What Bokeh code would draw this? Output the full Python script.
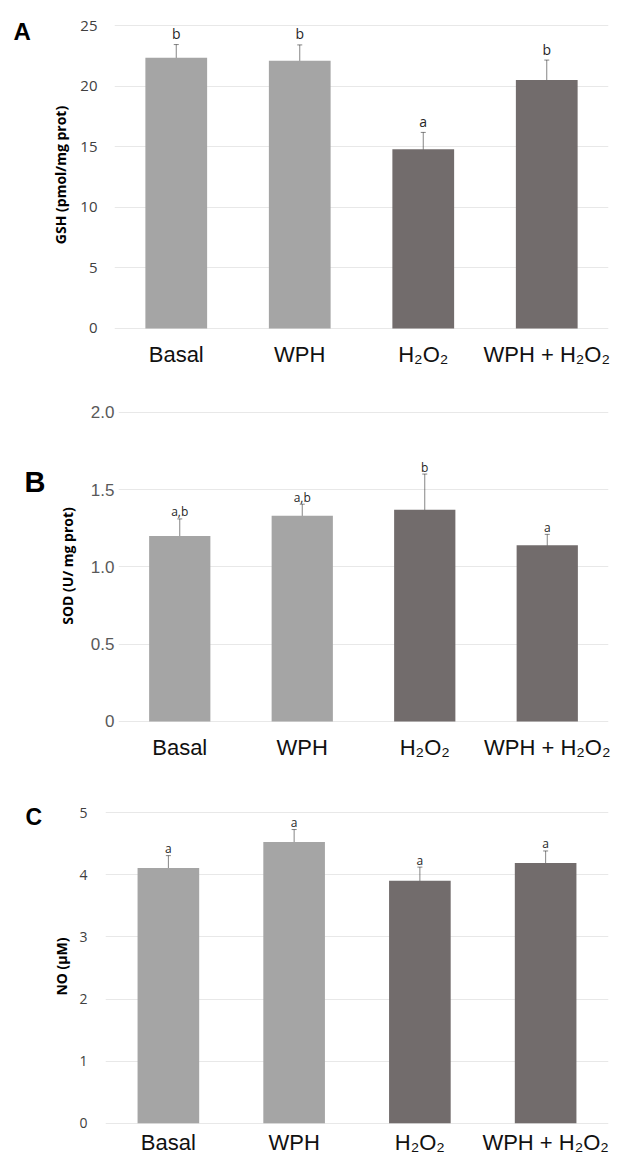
from bokeh.plotting import figure
from bokeh.models import (ColumnDataSource, Whisker, TeeHead, FixedTicker,
                          FactorRange, Range1d, NumeralTickFormatter)
from bokeh.layouts import row
from bokeh.embed import file_html
from bokeh.resources import INLINE
from bokeh.core.properties import value

# ---------------- data ----------------
groups = ["Basal", "WPH", "H₂O₂", "WPH + H₂O₂"]

gsh_mean = [22.35, 22.1, 14.8, 20.5]
gsh_err = [1.08, 1.3, 1.38, 1.65]
gsh_sig = ["b", "b", "a", "b"]
gsh_ticks = [0, 5, 10, 15, 20, 25]

sod_mean = [1.20, 1.33, 1.37, 1.14]
sod_err = [0.11, 0.075, 0.23, 0.07]
sod_sig = ["a,b", "a,b", "b", "a"]
sod_ticks = [0, 0.5, 1.0, 1.5, 2.0]

no_mean = [4.11, 4.53, 3.905, 4.19]
no_err = [0.2, 0.2, 0.22, 0.195]
no_sig = ["a", "a", "a", "a"]
no_ticks = [0, 1, 2, 3, 4, 5]

# ---------------- styles ----------------
LIGHT = "#A5A5A5"
DARK = "#726C6C"
bar_colors = [LIGHT, LIGHT, DARK, DARK]
LW = 46          # width of the strip holding the panel letter
W = 640 - LW     # width of the chart itself


def letter_strip(letter, *, height, top, bottom, x, center, size):
    s = figure(width=LW, height=height, x_range=Range1d(0, LW),
               y_range=Range1d(height - bottom, top),
               x_axis_location=None, y_axis_location=None,
               output_backend="svg", toolbar_location=None,
               min_border_top=top, min_border_bottom=bottom,
               min_border_left=0, min_border_right=0)
    s.outline_line_color = None
    s.grid.visible = False
    s.text(x=[x], y=[center], text=[letter], text_align="left",
           text_baseline="middle", text_font=value("Liberation Sans"),
           text_font_size=value(size), text_font_style="bold",
           text_color="#000000")
    return s


def panel(mean, err, sig, ticks, ylabel, *, height, top, bottom, left,
          yr, bar_w, tick_font, tick_size, tick_color, tick_standoff,
          label_standoff, x_standoff, sig_size, sig_off, fmt=None,
          overrides=None):
    upper = [m + e for m, e in zip(mean, err)]
    lower = [m - e for m, e in zip(mean, err)]
    src = ColumnDataSource(dict(cat=groups, val=mean, upper=upper, lower=lower,
                                sig=sig, color=bar_colors))
    p = figure(x_range=FactorRange(*groups), y_range=Range1d(*yr),
               width=W, height=height, output_backend="svg",
               toolbar_location=None, min_border_top=top,
               min_border_bottom=bottom, min_border_left=left,
               min_border_right=32)
    p.outline_line_color = None
    p.background_fill_color = "white"
    p.border_fill_color = "white"

    p.vbar(x="cat", top="val", bottom=0, width=bar_w, source=src,
           fill_color="color", line_color=None)

    wh = Whisker(base="cat", upper="upper", lower="lower", source=src,
                 line_color="#222222", line_alpha=0.55, line_width=1,
                 upper_head=TeeHead(size=5, line_color="#222222", line_alpha=0.55),
                 lower_head=TeeHead(size=5, line_color="#222222", line_alpha=0.55))
    p.add_layout(wh)

    p.text(x="cat", y="upper", text="sig", source=src, text_align="center",
           text_baseline="middle", y_offset=-sig_off,
           text_font=value("Open Sans"), text_font_size=value(sig_size),
           text_color="#262626")

    p.xgrid.grid_line_color = None
    p.ygrid.grid_line_color = "#E8E8E8"
    p.ygrid.grid_line_width = 1
    p.ygrid.ticker = FixedTicker(ticks=ticks)

    ya = p.yaxis[0]
    ya.ticker = FixedTicker(ticks=ticks)
    if fmt:
        ya.formatter = NumeralTickFormatter(format=fmt)
    ya.axis_line_color = None
    ya.major_tick_line_color = None
    ya.minor_tick_line_color = None
    ya.major_tick_out = 0
    ya.major_label_standoff = tick_standoff
    ya.major_label_text_font = tick_font
    ya.major_label_text_font_size = tick_size
    ya.major_label_text_color = tick_color
    ya.axis_label = ylabel
    ya.axis_label_standoff = label_standoff
    ya.axis_label_text_font = "Open Sans"
    ya.axis_label_text_font_size = "14px"
    ya.axis_label_text_font_style = "bold"
    ya.axis_label_text_color = "#000000"
    if overrides:
        ya.major_label_overrides = overrides

    xa = p.xaxis[0]
    xa.axis_line_color = None
    xa.major_tick_line_color = None
    xa.minor_tick_line_color = None
    xa.major_tick_out = 0
    xa.major_label_standoff = x_standoff
    xa.major_label_text_font = "Liberation Sans"
    xa.major_label_text_font_size = "22px"
    xa.major_label_text_color = "#111111"
    return p


pA = panel(gsh_mean, gsh_err, gsh_sig, gsh_ticks, "GSH (pmol/mg prot)",
           height=385, top=18, bottom=54, left=114 - LW, yr=(-0.25, 25.58),
           bar_w=0.5, tick_font="Open Sans", tick_size="15px",
           tick_color="#404040", tick_standoff=17, label_standoff=7,
           x_standoff=10, sig_size="14px", sig_off=11)
lA = letter_strip("A", height=385, top=18, bottom=54, x=13, center=31,
                  size="24px")

pB = panel(sod_mean, sod_err, sod_sig, sod_ticks, "SOD (U/ mg prot)",
           height=405, top=22, bottom=66, left=118 - LW, yr=(-0.0194, 2.0304),
           bar_w=0.5, tick_font="Liberation Sans", tick_size="17px",
           tick_color="#595959", tick_standoff=4, label_standoff=11,
           x_standoff=10, sig_size="12px", sig_off=7,
           fmt="0.0", overrides={0: "0"})
lB = letter_strip("B", height=405, top=22, bottom=66, x=24, center=96,
                  size="29px")

pC = panel(no_mean, no_err, no_sig, no_ticks, "NO (µM)",
           height=373, top=17, bottom=38, left=105 - LW, yr=(-0.037, 5.085),
           bar_w=0.49, tick_font="Open Sans", tick_size="14px",
           tick_color="#404040", tick_standoff=18, label_standoff=5,
           x_standoff=4, sig_size="12px", sig_off=7)
lC = letter_strip("C", height=373, top=17, bottom=38, x=25, center=26,
                  size="23px")

roots = [row(lA, pA), row(lB, pB), row(lC, pC)]
open("out.html", "w").write(file_html(roots, INLINE))
